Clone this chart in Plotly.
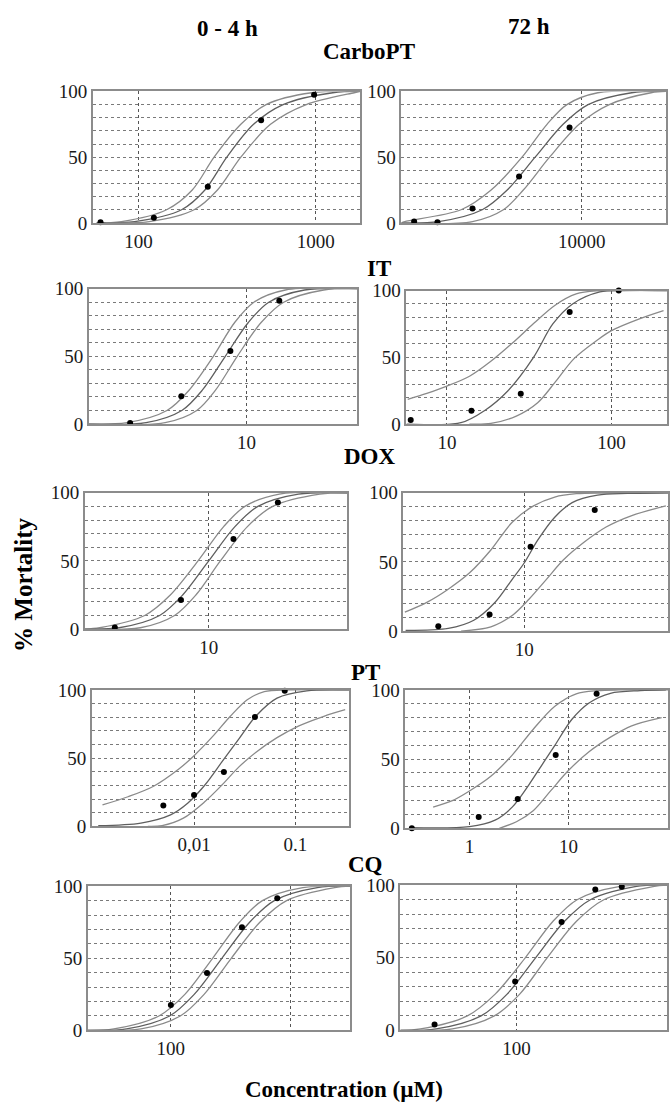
import plotly.graph_objects as go

# ---------------- data ----------------
LEVELS = [0, 1, 10, 25, 50, 75, 90, 99, 100]   # % mortality levels for steep curves

# CarboPT 0-4 h
CARBO04_UP = [58, 80, 144, 201, 267, 378, 525, 950, 1790]
CARBO04_MID = [58, 95, 175, 237, 315, 446, 655, 1250, 1790]
CARBO04_LO = [65, 115, 206, 279, 378, 556, 885, 1650, 1790]
CARBO04_DOT_X = [61, 122, 246, 492, 980]
CARBO04_DOT_Y = [0.5, 4, 27.6, 78, 97.5]

# CarboPT 72 h
CARBO72_UP = [757, 794, 1778, 2734, 4256, 6085, 8089, 12590, 33400]
CARBO72_MID = [757, 1290, 2408, 3442, 5134, 7660, 10950, 20440, 33400]
CARBO72_LO = [757, 2094, 3258, 4334, 6310, 9643, 14830, 27000, 33400]
CARBO72_DOT_X = [908, 1268, 2094, 4078, 8400]
CARBO72_DOT_Y = [1, 0.5, 10.9, 35.3, 72.6]

# IT 0-4 h
IT04_UP = [1.1, 1.87, 3.28, 4.47, 6.28, 8.46, 11.07, 17.2, 47.2]
IT04_MID = [1.1, 2.45, 4.04, 5.38, 7.42, 10.24, 13.64, 22.5, 47.2]
IT04_LO = [1.1, 3.20, 4.98, 6.47, 8.77, 12.25, 16.8, 29.4, 47.2]
IT04_DOT_X = [1.96, 4.01, 7.97, 15.8]
IT04_DOT_Y = [0.7, 20.6, 54, 91]

# IT 72 h
IT72_UP_X = [5.78, 7.55, 10, 13.72, 18.49, 24.9, 33.6, 45.2, 61.0, 82.1, 217]
IT72_UP_Y = [18.5, 23, 28.4, 35.8, 47, 60.5, 75.3, 88.9, 97.5, 99.8, 100]
IT72_MID_X = [5.68, 12.18, 16.9, 23.5, 33.6, 44.0, 58.0, 85.0, 120, 217]
IT72_MID_Y = [0, 1, 10, 25, 50, 75, 90, 99, 100, 100]
IT72_LO_X = [13.7, 18.49, 26.4, 35.6, 45.2, 59.2, 82.1, 100, 149, 207]
IT72_LO_Y = [0, 0.5, 6, 16, 31, 49, 63, 70, 79, 85]
IT72_DOT_X = [6.03, 14.1, 28.1, 55.7, 110.6]
IT72_DOT_Y = [3, 10, 22.7, 84, 100]

# DOX 0-4 h
DOX04_UP = [1.88, 2.30, 4.22, 5.96, 8.66, 12.2, 16.3, 25.9, 64.9]
DOX04_MID = [1.88, 2.99, 5.16, 7.04, 10, 14.2, 19.4, 33.5, 64.9]
DOX04_LO = [1.88, 3.98, 6.31, 8.41, 11.7, 16.8, 23.7, 44.7, 64.9]
DOX04_DOT_X = [2.82, 6.88, 13.96, 25.4]
DOX04_DOT_Y = [1.2, 21.3, 66, 92.8]

# DOX 72 h
DOX72_UP_X = [2.0, 2.69, 3.59, 4.79, 6.38, 8.51, 11.35, 15.1, 20.2, 30.2, 69.6]
DOX72_UP_Y = [13.7, 20.8, 30.3, 42.1, 58.6, 78.7, 90.5, 96.9, 99.3, 99.8, 100]
DOX72_MID_X = [2.02, 3.59, 5.07, 6.76, 8.51, 10, 12.0, 15.1, 19.1, 26.9, 40.3, 69.6]
DOX72_MID_Y = [0.5, 1.9, 7.8, 20.8, 37.4, 49.2, 65.7, 82.3, 92.9, 98.3, 99.5, 100]
DOX72_LO_X = [4.27, 6.38, 8.51, 10.7, 13.5, 17.0, 22.6, 30.2, 42.7, 67.6]
DOX72_LO_Y = [0, 3.1, 11.3, 23.2, 37.4, 51.5, 64.5, 75.2, 83.5, 90.5]
DOX72_DOT_X = [3.14, 6.27, 10.9, 25.9]
DOX72_DOT_Y = [3.5, 12, 61, 87.5]

# PT 0-4 h
PT04_UP_X = [0.00125, 0.00223, 0.00399, 0.00713, 0.01, 0.01545, 0.0228, 0.0335, 0.0493, 0.0881, 0.342]
PT04_UP_Y = [15.7, 21.7, 29.4, 42.2, 51.8, 66.3, 80.7, 92.8, 98.8, 100, 100]
PT04_MID_X = [0.001135, 0.00299, 0.00587, 0.00865, 0.01274, 0.01875, 0.0276, 0.0406, 0.0659, 0.1297, 0.2815, 0.342]
PT04_MID_Y = [0.5, 2.4, 8.4, 16.9, 30.1, 47, 63.9, 80.7, 94, 99.3, 100, 100]
PT04_LO_X = [0.0035, 0.00484, 0.00785, 0.01274, 0.01875, 0.0276, 0.0406, 0.0659, 0.107, 0.191, 0.31]
PT04_LO_Y = [0, 0.5, 6, 18, 30.1, 43.4, 54.2, 65, 73.5, 80.7, 85.5]
PT04_DOT_X = [0.00498, 0.01, 0.0197, 0.0399, 0.0785]
PT04_DOT_Y = [15.2, 22.9, 39.8, 80.2, 99.5]

# PT 72 h
PT72_UP_X = [0.43, 0.672, 1.0, 1.643, 2.70, 4.43, 7.28, 11.96, 19.6, 32.3, 101]
PT72_UP_Y = [15.3, 20, 27, 37.6, 52.9, 71.8, 88.2, 97.2, 99.5, 100, 100]
PT72_MID_X = [0.249, 1.0, 1.814, 2.70, 4.01, 5.40, 7.28, 10.83, 16.1, 26.5, 53.0, 96.1]
PT72_MID_Y = [0.5, 1.2, 5.9, 15.3, 31.8, 45.9, 60, 78.8, 90.6, 97.6, 99.5, 100]
PT72_LO_X = [2.00, 2.98, 4.43, 6.59, 9.80, 16.1, 26.5, 43.4, 87.0]
PT72_LO_Y = [0, 4.7, 12.9, 27, 41.2, 55.3, 65.9, 74.1, 80]
PT72_DOT_X = [0.262, 1.24, 3.07, 7.42, 19.2]
PT72_DOT_Y = [0, 8.2, 21.2, 52.9, 97.2]

# CQ 0-4 h
CQ04_UP = [20.1, 33.2, 79.4, 131, 224, 376, 586, 1280, 3214]
CQ04_MID = [20.1, 42.5, 97.6, 157, 268, 458, 738, 1693, 3214]
CQ04_LO = [20.1, 56.2, 120, 190, 321, 558, 936, 2371, 3214]
CQ04_DOT_X = [100, 201, 395, 781]
CQ04_DOT_Y = [17.7, 39.8, 71.6, 91.6]

# CQ 72 h
CQ72_UP = [17.7, 23.9, 48.1, 72.8, 114, 172, 247, 460, 944]
CQ72_MID = [17.7, 30.2, 59.0, 87.0, 133, 204, 301, 586, 944]
CQ72_LO = [17.7, 38.5, 71.9, 105, 158, 244, 368, 766, 944]
CQ72_DOT_X = [29.5, 98.1, 196, 324, 481]
CQ72_DOT_Y = [4, 33.7, 74.6, 97, 98.9]

# x-axis tick labels
CARBO04_TICKS, CARBO04_TICKTEXT = [100, 1000], ["100", "1000"]
CARBO72_TICKS, CARBO72_TICKTEXT = [10000], ["10000"]
IT04_TICKS, IT04_TICKTEXT = [10], ["10"]
IT72_TICKS, IT72_TICKTEXT = [10, 100], ["10", "100"]
DOX04_TICKS, DOX04_TICKTEXT = [10], ["10"]
DOX72_TICKS, DOX72_TICKTEXT = [10], ["10"]
PT04_TICKS, PT04_TICKTEXT = [0.01, 0.1], ["0,01", "0.1"]
PT72_TICKS, PT72_TICKTEXT = [1, 10], ["1", "10"]
CQ04_TICKS, CQ04_TICKTEXT = [100, 1000], ["100", ""]
CQ72_TICKS, CQ72_TICKTEXT = [100], ["100"]

Y_TICKS = [0, 10, 20, 30, 40, 50, 60, 70, 80, 90, 100]
Y_TICKTEXT = ["0", "", "", "", "", "50", "", "", "", "", "100"]

# ---------------- layout (pixel boxes in a 670 x 1115 page) ----------------
W, H = 670, 1115

panels = [
    dict(box=(93, 361, 83, 217), xr=(1.742, 3.253), tv=CARBO04_TICKS, tt=CARBO04_TICKTEXT,
         curves=[(CARBO04_UP, LEVELS), (CARBO04_MID, LEVELS), (CARBO04_LO, LEVELS)],
         dots=(CARBO04_DOT_X, CARBO04_DOT_Y)),
    dict(box=(402, 667, 83, 217), xr=(2.879, 4.524), tv=CARBO72_TICKS, tt=CARBO72_TICKTEXT,
         curves=[(CARBO72_UP, LEVELS), (CARBO72_MID, LEVELS), (CARBO72_LO, LEVELS)],
         dots=(CARBO72_DOT_X, CARBO72_DOT_Y)),
    dict(box=(89, 358, 284, 422), xr=(0.0415, 1.6736), tv=IT04_TICKS, tt=IT04_TICKTEXT,
         curves=[(IT04_UP, LEVELS), (IT04_MID, LEVELS), (IT04_LO, LEVELS)],
         dots=(IT04_DOT_X, IT04_DOT_Y)),
    dict(box=(407, 668, 286, 422), xr=(0.754, 2.337), tv=IT72_TICKS, tt=IT72_TICKTEXT,
         curves=[(IT72_UP_X, IT72_UP_Y), (IT72_MID_X, IT72_MID_Y), (IT72_LO_X, IT72_LO_Y)],
         dots=(IT72_DOT_X, IT72_DOT_Y)),
    dict(box=(85, 348, 492, 631), xr=(0.275, 1.8125), tv=DOX04_TICKS, tt=DOX04_TICKTEXT,
         curves=[(DOX04_UP, LEVELS), (DOX04_MID, LEVELS), (DOX04_LO, LEVELS)],
         dots=(DOX04_DOT_X, DOX04_DOT_Y)),
    dict(box=(404, 669, 492, 633), xr=(0.2925, 1.8425), tv=DOX72_TICKS, tt=DOX72_TICKTEXT,
         curves=[(DOX72_UP_X, DOX72_UP_Y), (DOX72_MID_X, DOX72_MID_Y), (DOX72_LO_X, DOX72_LO_Y)],
         dots=(DOX72_DOT_X, DOX72_DOT_Y)),
    dict(box=(92, 350, 693, 832), xr=(-3.008, -0.4664), tv=PT04_TICKS, tt=PT04_TICKTEXT,
         curves=[(PT04_UP_X, PT04_UP_Y), (PT04_MID_X, PT04_MID_Y), (PT04_LO_X, PT04_LO_Y)],
         dots=(PT04_DOT_X, PT04_DOT_Y)),
    dict(box=(406, 669, 693, 834), xr=(-0.6466, 2.004), tv=PT72_TICKS, tt=PT72_TICKTEXT,
         curves=[(PT72_UP_X, PT72_UP_Y), (PT72_MID_X, PT72_MID_Y), (PT72_LO_X, PT72_LO_Y)],
         dots=(PT72_DOT_X, PT72_DOT_Y)),
    dict(box=(88, 351, 893, 1040), xr=(1.3036, 3.507), tv=CQ04_TICKS, tt=CQ04_TICKTEXT,
         curves=[(CQ04_UP, LEVELS), (CQ04_MID, LEVELS), (CQ04_LO, LEVELS)],
         dots=(CQ04_DOT_X, CQ04_DOT_Y)),
    dict(box=(401, 668, 892, 1040), xr=(1.2486, 2.975), tv=CQ72_TICKS, tt=CQ72_TICKTEXT,
         curves=[(CQ72_UP, LEVELS), (CQ72_MID, LEVELS), (CQ72_LO, LEVELS)],
         dots=(CQ72_DOT_X, CQ72_DOT_Y)),
]

SERIF = "Liberation Serif, Times New Roman, serif"
CURVE_COLORS = ["#8a8a8a", "#5f5f5f", "#8a8a8a"]

fig = go.Figure()
layout = {}
for i, p in enumerate(panels, start=1):
    sfx = "" if i == 1 else str(i)
    x0, x1, y0, y1 = p["box"]
    for (cx, cy), col in zip(p["curves"], CURVE_COLORS):
        fig.add_trace(go.Scatter(
            x=cx, y=cy, mode="lines", xaxis="x" + sfx, yaxis="y" + sfx,
            line=dict(color=col, width=1.3, shape="spline", smoothing=0.9),
            hoverinfo="skip", showlegend=False))
    fig.add_trace(go.Scatter(
        x=p["dots"][0], y=p["dots"][1], mode="markers", xaxis="x" + sfx, yaxis="y" + sfx,
        marker=dict(color="black", size=6, symbol="circle"),
        cliponaxis=False, showlegend=False))
    layout["xaxis" + sfx] = dict(
        domain=[x0 / W, x1 / W], anchor="y" + sfx, type="log", range=list(p["xr"]),
        tickvals=p["tv"], ticktext=p["tt"], ticks="",
        showgrid=True, gridcolor="#555555", griddash="dot", gridwidth=1,
        showline=True, mirror=True, linecolor="#8c8c8c", linewidth=1.6,
        zeroline=False, tickfont=dict(family=SERIF, size=19, color="#1a1a1a"))
    layout["yaxis" + sfx] = dict(
        domain=[1 - y1 / H, 1 - y0 / H], anchor="x" + sfx, range=[0, 100],
        tickvals=Y_TICKS, ticktext=Y_TICKTEXT, ticks="",
        showgrid=True, gridcolor="#7a7a7a", griddash="dot", gridwidth=1,
        showline=True, mirror=True, linecolor="#8c8c8c", linewidth=1.6,
        zeroline=False, tickfont=dict(family=SERIF, size=19, color="#1a1a1a"))

def ann(text, px, py, size=23, angle=0):
    return dict(text="<b>%s</b>" % text, x=px / W, y=1 - py / H, xref="paper", yref="paper",
                showarrow=False, xanchor="center", yanchor="middle", textangle=angle,
                font=dict(family=SERIF, size=size, color="black"))

annotations = [
    ann("0 - 4 h", 228, 19),
    ann("72 h", 530, 17),
    ann("CarboPT", 370, 42),
    ann("IT", 380, 263),
    ann("DOX", 371, 455),
    ann("PT", 366, 675),
    ann("CQ", 366, 871),
    ann("Concentration (µM)", 345, 1100),
    ann("% Mortality", 24, 586, size=25, angle=-90),
]

fig.update_layout(
    width=W, height=H, margin=dict(l=0, r=0, t=0, b=0),
    paper_bgcolor="white", plot_bgcolor="white",
    showlegend=False, annotations=annotations, **layout)

fig.write_html("out.html", config={"displayModeBar": False},
               post_script="document.body.style.margin='0';document.body.style.overflow='hidden';")
